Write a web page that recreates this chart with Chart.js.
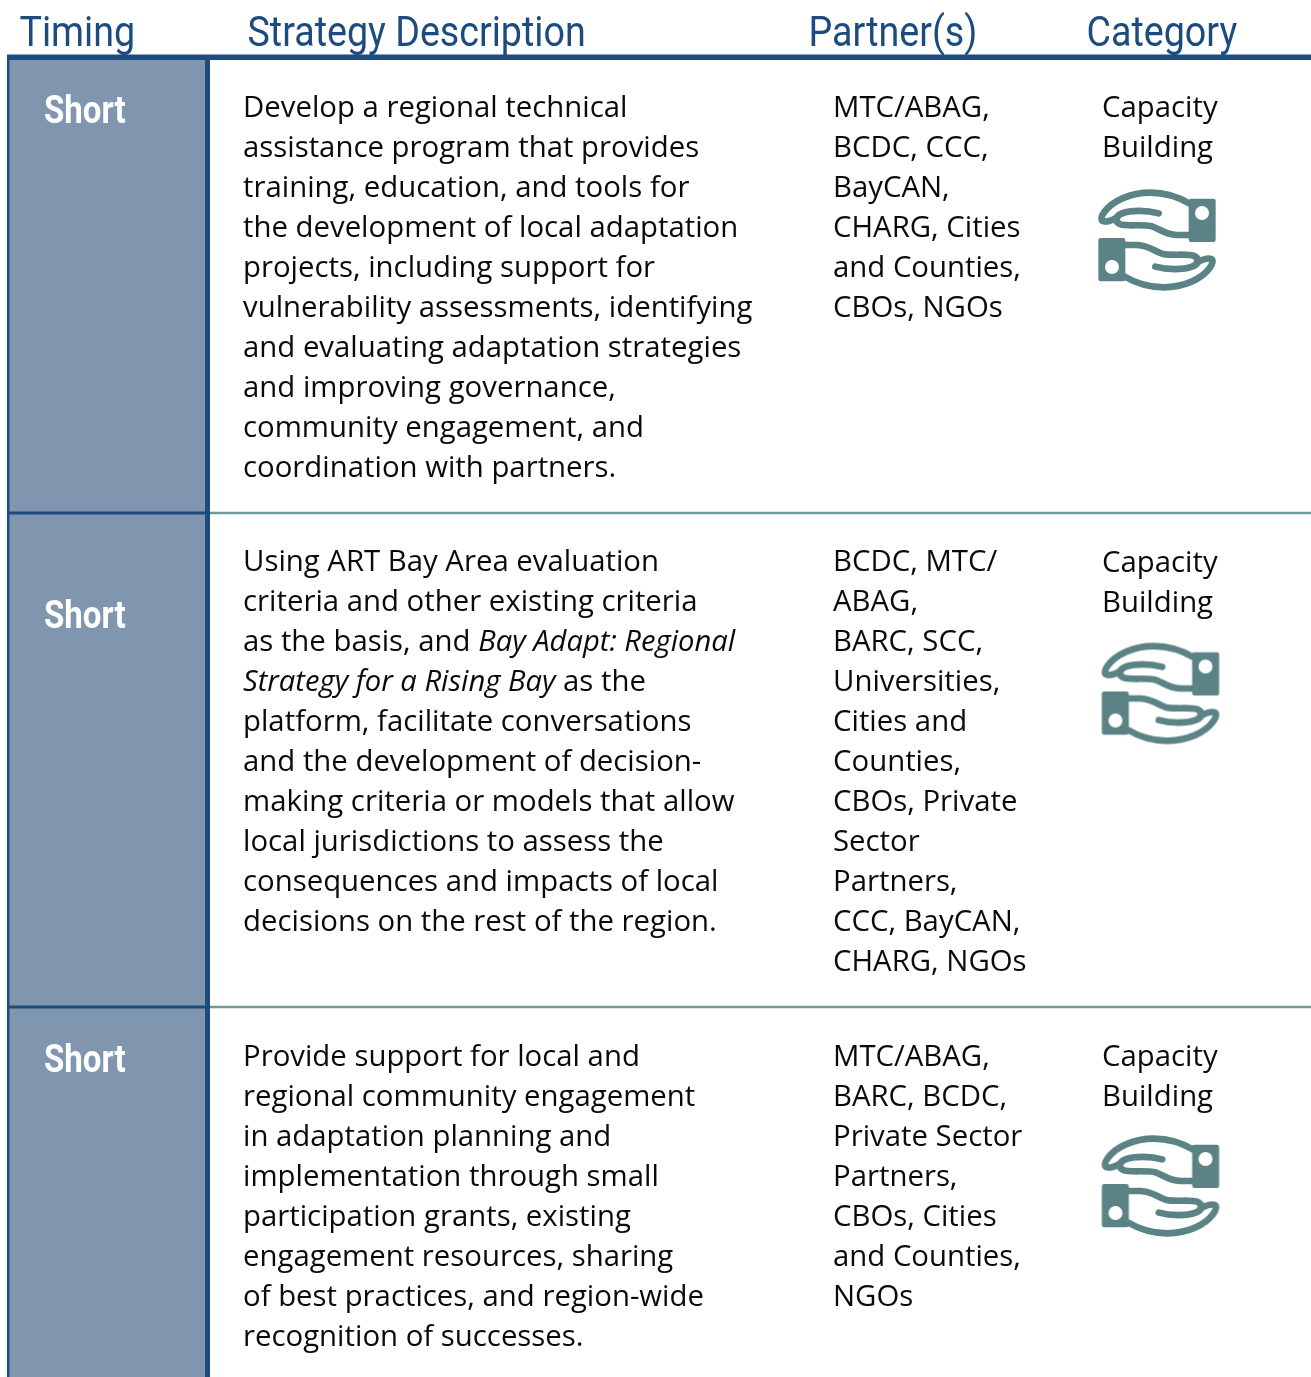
<!DOCTYPE html>
<html>
<head>
<meta charset="utf-8">
<title>Strategies</title>
<script src="https://cdn.jsdelivr.net/npm/chart.js@4"></script>
<style>
    html, body { margin: 0; padding: 0; background: #fff; }
    canvas { display: block; }
</style>
</head>
<body>
<canvas id="chart" width="1311" height="1377"></canvas>
<script>
// Table content
const headers = ['Timing', 'Strategy Description', 'Partner(s)', 'Category'];
const timing = ['Short', 'Short', 'Short'];
const categories = [
    ['Capacity', 'Building'],
    ['Capacity', 'Building'],
    ['Capacity', 'Building']
];
// *...* marks italic runs
const strategies = [
    [
        'Develop a regional technical',
        'assistance program that provides',
        'training, education, and tools for',
        'the development of local adaptation',
        'projects, including support for',
        'vulnerability assessments, identifying',
        'and evaluating adaptation strategies',
        'and improving governance,',
        'community engagement, and',
        'coordination with partners.'
    ],
    [
        'Using ART Bay Area evaluation',
        'criteria and other existing criteria',
        'as the basis, and *Bay Adapt: Regional*',
        '*Strategy for a Rising Bay* as the',
        'platform, facilitate conversations',
        'and the development of decision-',
        'making criteria or models that allow',
        'local jurisdictions to assess the',
        'consequences and impacts of local',
        'decisions on the rest of the region.'
    ],
    [
        'Provide support for local and',
        'regional community engagement',
        'in adaptation planning and',
        'implementation through small',
        'participation grants, existing',
        'engagement resources, sharing',
        'of best practices, and region-wide',
        'recognition of successes.'
    ]
];
const partners = [
    ['MTC/ABAG,', 'BCDC, CCC,', 'BayCAN,', 'CHARG, Cities', 'and Counties,', 'CBOs, NGOs'],
    ['BCDC, MTC/', 'ABAG,', 'BARC, SCC,', 'Universities,', 'Cities and', 'Counties,', 'CBOs, Private', 'Sector', 'Partners,', 'CCC, BayCAN,', 'CHARG, NGOs'],
    ['MTC/ABAG,', 'BARC, BCDC,', 'Private Sector', 'Partners,', 'CBOs, Cities', 'and Counties,', 'NGOs']
];

// Row extents on the y scale
const rowEdges = [58, 513, 1007, 1377];
const rowRules = [513, 1007];
const iconCentersX = [1157, 1160.5, 1160.5];
const iconCentersY = [240, 693.5, 1186];

const NAVY = '#1c4b7f';
const STEEL = '#8096af';
const TEAL = '#5b8385';
const RULE = '#6f9898';

const drawText = (ctx, str, px, py, font, color, squeeze = 1) => {
    ctx.save();
    ctx.font = font;
    ctx.fillStyle = color;
    ctx.textBaseline = 'alphabetic';
    ctx.textAlign = 'left';
    ctx.translate(px, py);
    ctx.scale(squeeze, 1);
    ctx.fillText(str, 0, 0);
    ctx.restore();
};

// Body line, alternates roman and italic on each * marker
const drawBodyLine = (ctx, line, px, py) => {
    let cursor = px;
    line.split('*').forEach((run, i) => {
        if (!run) return;
        const font = i % 2 ? 'italic 29.2px "Open Sans"' : '29.35px "Open Sans"';
        drawText(ctx, run, cursor, py, font, '#0a0a0a');
        ctx.font = font;
        cursor += ctx.measureText(run).width;
    });
};

const tablePlugin = {
    id: 'tableText',
    afterDatasetsDraw(chart) {
        const { ctx, scales: { x, y } } = chart;
        const headerX = [19.5, 247.5, 808.5, 1086.5];
        headers.forEach((h, i) => {
            drawText(ctx, h, x.getPixelForValue(headerX[i]), y.getPixelForValue(45.5), '42px Roboto', NAVY, 0.896);
        });

        const bodyBaselines = [117, 571, 1066];
        const shortBaselines = [123, 628, 1072];
        const categoryBaselines = [117, 572, 1066];
        const lineStep = 40;
        timing.forEach((t, r) => {
            drawText(ctx, t, x.getPixelForValue(44), y.getPixelForValue(shortBaselines[r]), 'bold 38px Roboto', '#fff', 0.87);
            strategies[r].forEach((line, i) => {
                drawBodyLine(ctx, line, x.getPixelForValue(243), y.getPixelForValue(bodyBaselines[r] + i * lineStep));
            });
            partners[r].forEach((line, i) => {
                drawBodyLine(ctx, line, x.getPixelForValue(833), y.getPixelForValue(bodyBaselines[r] + i * lineStep));
            });
            categories[r].forEach((line, i) => {
                drawBodyLine(ctx, line, x.getPixelForValue(1102), y.getPixelForValue(categoryBaselines[r] + i * lineStep));
            });
        });
    }
};

// Hands icon, drawn at 3x then scaled down, lower hand is the upper one turned 180 degrees
const makeIcon = () => {
    const w = 124, h = 106;
    const c = document.createElement('canvas');
    c.width = w;
    c.height = h;
    const g = c.getContext('2d');
    const hand = () => {
        g.save();
        g.translate(-230, -208);
        g.strokeStyle = TEAL;
        g.fillStyle = TEAL;
        g.lineWidth = 20;
        g.lineCap = 'round';
        g.lineJoin = 'round';
        g.stroke(new Path2D('M330 100 C290 76 250 66 210 66 C150 66 97 90 72 124 C62 138 60 150 70 152 C84 155 96 148 110 141'));
        g.stroke(new Path2D('M235 128 C200 118 150 118 125 128 C105 136 100 150 118 160 C135 168 190 160 215 167 C240 175 250 190 290 193 L330 193'));
        const cuff = new Path2D();
        cuff.roundRect(325, 84, 81, 130, 7);
        cuff.arc(365, 127, 21, 0, Math.PI * 2);
        g.fill(cuff, 'evenodd');
        g.restore();
    };
    g.translate(w / 2, h / 2);
    g.scale(1 / 3, 1 / 3);
    hand();
    g.rotate(Math.PI);
    hand();
    return c;
};

const hline = (yv, x0, x1, color, width) => ({
    type: 'scatter', showLine: true, pointRadius: 0,
    borderColor: color, borderWidth: width,
    data: [{ x: x0, y: yv }, { x: x1, y: yv }], order: 1
});
const vline = (xv, y0, y1, color, width) => ({
    type: 'scatter', showLine: true, pointRadius: 0,
    borderColor: color, borderWidth: width,
    data: [{ x: xv, y: y0 }, { x: xv, y: y1 }], order: 1
});

const datasets = [
    {
        type: 'bar',
        data: timing.map((t, i) => ({ x: 107, y: [rowEdges[i], rowEdges[i + 1]] })),
        backgroundColor: STEEL,
        barThickness: 198,
        order: 2
    },
    ...rowRules.map(v => hline(v, 210, 1311, RULE, 2.5)),
    ...rowRules.map(v => hline(v, 7, 210, NAVY, 3)),
    vline(8.2, rowEdges[0], rowEdges[3], NAVY, 2.5),
    vline(207.5, rowEdges[0], rowEdges[3], NAVY, 5),
    hline(57.3, 7, 1311, NAVY, 5.5),
    {
        type: 'scatter',
        data: iconCentersX.map((v, i) => ({ x: v, y: iconCentersY[i] })),
        pointStyle: makeIcon(),
        pointRadius: 5,
        clip: false,
        order: 0
    }
];

new Chart(document.getElementById('chart'), {
    type: 'bar',
    data: { datasets },
    options: {
        responsive: false,
        animation: false,
        layout: { padding: 0, autoPadding: false },
        plugins: { legend: { display: false }, tooltip: { enabled: false } },
        scales: {
            x: { type: 'linear', min: 0, max: 1311, display: false, offset: false },
            y: { type: 'linear', min: 0, max: 1377, reverse: true, display: false }
        }
    },
    plugins: [tablePlugin]
});
</script>
</body>
</html>
